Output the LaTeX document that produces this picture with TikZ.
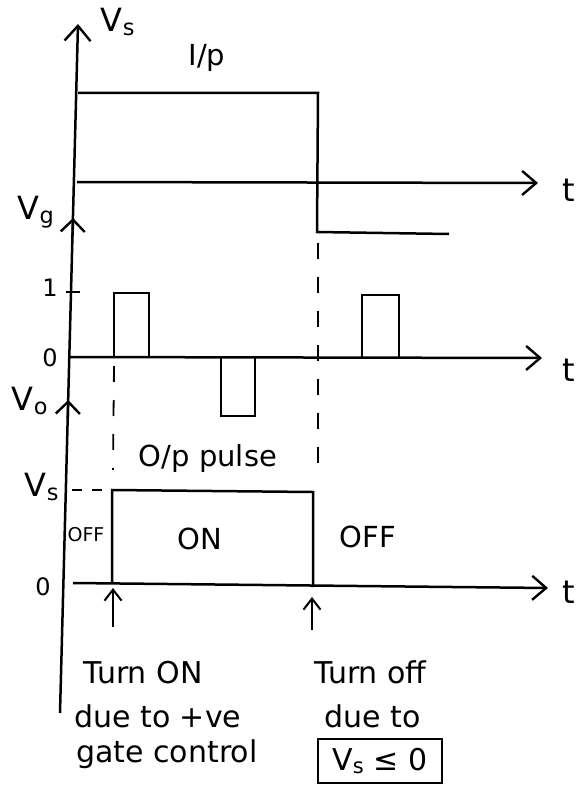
\documentclass[tikz,border=0pt]{standalone}
\usepackage{fontspec}
\setmainfont{DejaVu Sans}
\newcommand\vsym[1]{V\textsubscript{#1}}
\usetikzlibrary{arrows.meta}
\begin{document}
\begin{tikzpicture}[x=1pt,y=-1pt,line width=2.5pt,
  mainaxis/.style={line width=2.5pt,-{Straight Barb[length=15pt,width=26pt,line width=2.4pt]}},
  axis/.style={line width=2.5pt,-{Straight Barb[length=14pt,width=24pt,line width=2.4pt]}},
  axismark/.style={line width=2.4pt,-{Straight Barb[length=12pt,width=24pt,line width=2.4pt]}},
  uparrow/.style={line width=2pt,-{Straight Barb[length=11pt,width=17pt,line width=2pt]}},
  wave/.style={line width=2.5pt},
  pulse/.style={line width=2pt},
  guide/.style={line width=1.8pt,dash pattern=on 16pt off 18pt},
  lbl/.style={inner sep=0pt,font=\fontsize{29}{34}\selectfont},
  vlab/.style={inner sep=0pt,font=\fontsize{32}{36}\selectfont},
  num/.style={inner sep=0pt,font=\fontsize{24}{28}\selectfont},
  txt/.style={inner sep=0pt,anchor=base west,font=\fontsize{30}{36}\selectfont}]
\useasboundingbox (0,0) rectangle (584,789);
% main vertical axis
\coordinate (ybot) at (60,713);
\coordinate (ytop) at (78,24);
\draw[mainaxis] (ybot) -- (ytop);
\node[vlab] (vs) at (118,22) {\vsym{s}};
\node[lbl,anchor=base] (ip) at (207,66) {I/p};
% Vg and Vo marks on the axis
\coordinate (vgb) at (72.6,236);
\coordinate (vgt) at (73.1,218);
\draw[axismark] (vgb) -- (vgt);
\node[vlab] (vg) at (36,212) {\vsym{g}};
\coordinate (vob) at (67.8,418);
\coordinate (vot) at (68.2,400);
\draw[axismark] (vob) -- (vot);
\node[vlab] (vo) at (30,401) {\vsym{o}};
% time axes
\coordinate (a1s) at (77,182); \coordinate (a1e) at (538,183);
\coordinate (a2s) at (68,357); \coordinate (a2e) at (542,358);
\coordinate (a3s) at (73,583); \coordinate (a3e) at (548,588);
\draw[axis] (a1s) -- (a1e);
\draw[axis] (a2s) -- (a2e);
\draw[axis] (a3s) -- (a3e);
\node[vlab] (t1) at (569,190) {t};
\node[vlab] (t2) at (569,370) {t};
\node[vlab] (t3) at (569,592) {t};
% input waveform
\coordinate (i0) at (78,93); \coordinate (i1) at (318,93);
\coordinate (i2) at (317,232); \coordinate (i3) at (449,234);
\draw[wave] (i0) -- (i1) -- (i2) -- (i3);
% gate axis tick and labels
\coordinate (tk1a) at (66,292); \coordinate (tk1b) at (80,292);
\draw[line width=2pt] (tk1a) -- (tk1b);
\node[num] (one) at (50,288) {1};
\node[num] (zero1) at (50,358) {0};
% gate pulses
\coordinate (p1a) at (114,357); \coordinate (p1b) at (114,293);
\coordinate (p1c) at (149,293); \coordinate (p1d) at (149,357);
\draw[pulse] (p1a) -- (p1b) -- (p1c) -- (p1d);
\coordinate (p2a) at (221,358); \coordinate (p2b) at (221,416);
\coordinate (p2c) at (255,416); \coordinate (p2d) at (255,358);
\draw[pulse] (p2a) -- (p2b) -- (p2c) -- (p2d);
\coordinate (p3a) at (362,357); \coordinate (p3b) at (362,295);
\coordinate (p3c) at (399,295); \coordinate (p3d) at (399,358);
\draw[pulse] (p3a) -- (p3b) -- (p3c) -- (p3d);
% dashed guides
\coordinate (d1a) at (318,243); \coordinate (d1b) at (318,478);
\draw[guide] (d1a) -- (d1b);
\coordinate (d2a) at (114,366); \coordinate (d2b) at (113,470);
\draw[guide] (d2a) -- (d2b);
% output pulse
\node[lbl,anchor=base] (opp) at (208,466) {O/p pulse};
\node[vlab] (vs2) at (42,487) {\vsym{s}};
\coordinate (o0) at (72,490);
\coordinate (o1) at (112,583); \coordinate (o2) at (112,490);
\coordinate (o3) at (313,492); \coordinate (o4) at (313,587);
\draw[line width=1.6pt,dash pattern=on 10pt off 10pt] (o0) -- (o2);
\draw[wave] (o1) -- (o2) -- (o3) -- (o4);
\node[inner sep=0pt,font=\fontsize{19}{22}\selectfont] (off1) at (86,535) {OFF};
\node[lbl] (on) at (200,539) {ON};
\node[lbl] (off2) at (368,537) {OFF};
\node[num] (zero2) at (43,587) {0};
% event arrows
\coordinate (e1a) at (113,627); \coordinate (e1b) at (113,588);
\coordinate (e2a) at (312,630); \coordinate (e2b) at (312,597);
\draw[uparrow] (e1a) -- (e1b);
\draw[uparrow] (e2a) -- (e2b);
% captions
\node[txt] (c1) at (82,683) {Turn ON};
\node[txt] (c2) at (73,727) {due to +ve};
\node[txt] (c3) at (75,762) {gate control};
\node[txt] (c4) at (313,683) {Turn off};
\node[txt] (c5) at (323,727) {due to};
\node[draw,line width=2pt,inner sep=0pt,minimum width=124pt,minimum height=44pt,font=\fontsize{30}{36}\selectfont] (c6) at (380,761) {\vsym{s} ≤ 0};
\end{tikzpicture}
\end{document}
